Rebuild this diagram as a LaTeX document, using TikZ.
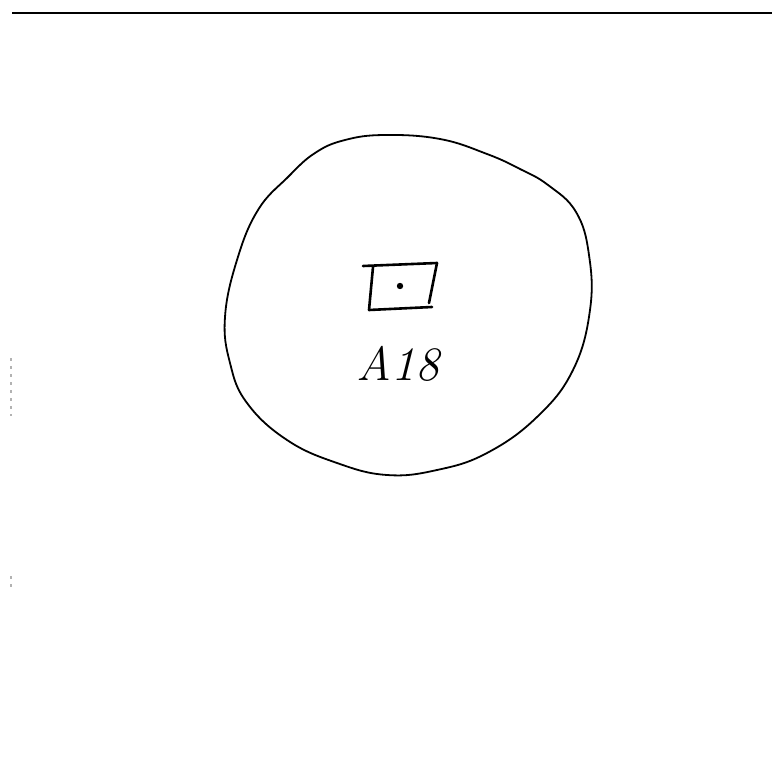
\documentclass[tikz,border=0pt]{standalone}
\begin{document}
\begin{tikzpicture}[x=1pt,y=-1pt,
  ink/.style={line width=1.8pt,line join=round,line cap=round},
  boxink/.style={line width=2.6pt,line join=round,line cap=round},
  faint/.style={line width=1.2pt,gray!60,dash pattern=on 3pt off 5pt}]
\useasboundingbox (0,0) rectangle (772,773);
% top rule
\coordinate (rl) at (12,13);
\coordinate (rr) at (772,13);
\draw[line width=1.4pt] (rl) -- (rr);
% scanner marks on left edge
\coordinate (m1) at (11,358);
\coordinate (m2) at (11,416);
\draw[faint] (m1) -- (m2);
\coordinate (m3) at (11,576);
\coordinate (m4) at (11,590);
\draw[faint] (m3) -- (m4);
% blob circle
\draw[ink] plot[smooth cycle,tension=0.7] coordinates {
 (385,135) (345,140) (315,153) (288,177) (258,210) (237,260) (225,317) (230,363)
 (247,403) (287,440) (337,463) (387,475) (437,470) (487,453) (537,417)
 (573,370) (590,310) (589,255) (576,212) (548,185) (520,169) (487,154) (440,139)};
% small rectangle
\coordinate (b1) at (363,266);
\coordinate (b2) at (437,263);
\coordinate (b3) at (373,267);
\coordinate (b4) at (369,310);
\coordinate (b5) at (432,307);
\coordinate (b6) at (429,303);
\draw[boxink] (b1) -- (b2);
\draw[boxink] (b3) -- (b4) -- (b5);
\draw[boxink] (b2) -- (b6);
\fill (400,286) circle (3.2pt);
% label
\node[font=\fontsize{48}{50}\selectfont\itshape] (lab) at (398,364) {A18};
\end{tikzpicture}
\end{document}
